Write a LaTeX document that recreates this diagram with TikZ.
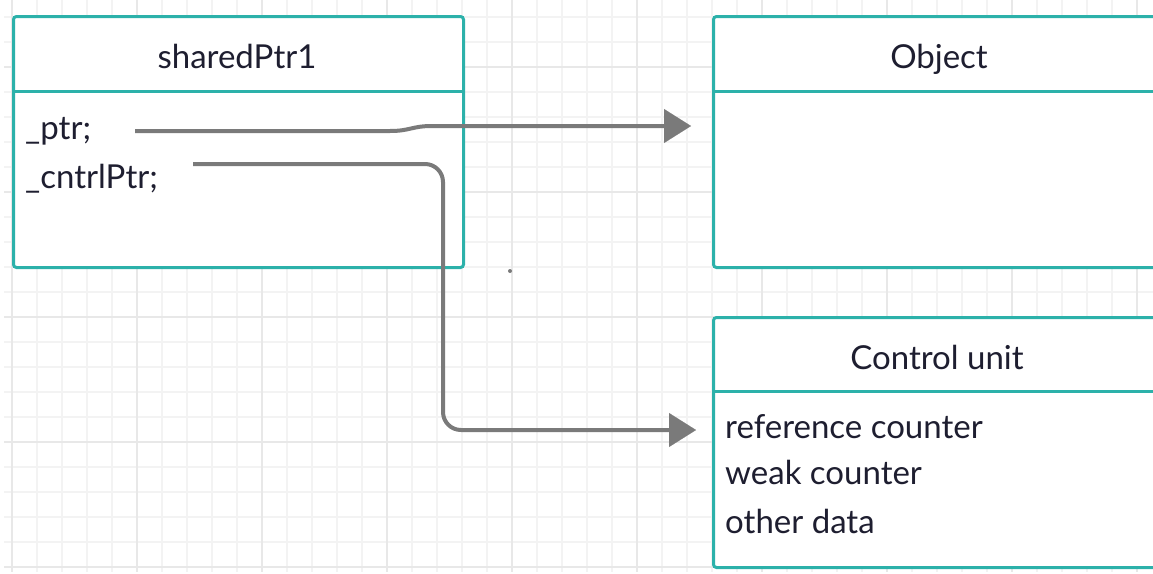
\documentclass[tikz,border=0pt]{standalone}
\usepackage{fontspec}
\setmainfont{Lato}
\usetikzlibrary{arrows.meta}
\definecolor{teal2}{RGB}{44,177,170}
\definecolor{gridminor}{RGB}{243,243,243}
\definecolor{gridmajor}{RGB}{232,232,232}
\definecolor{wire}{RGB}{122,122,122}
\definecolor{ink}{RGB}{30,30,48}
\tikzset{
  box/.style={draw=teal2, line width=3pt, rounded corners=3pt, fill=white,
    rectangle, inner sep=0pt, anchor=north west},
  divider/.style={draw=teal2, line width=3pt},
  title/.style={text=ink, font=\fontsize{33}{40}\selectfont, anchor=base, inner sep=0pt},
  field/.style={text=ink, font=\fontsize{33}{40}\selectfont, anchor=base west, inner sep=0pt},
  link/.style={draw=wire, line width=4pt,
    -{Triangle[length=27pt,width=34pt,line width=0.1pt]}},
}
\begin{document}
\begin{tikzpicture}[x=1pt,y=-1pt]
\useasboundingbox (0,0) rectangle (1153,573);
% background grid
\begin{scope}
  \clip (4,0) rectangle (1153,571);
  \foreach \k in {0,...,46} {
    \draw[gridminor, line width=1.5pt] ({-13+25*\k},0) -- ({-13+25*\k},573);
  }
  \foreach \k in {0,...,23} {
    \draw[gridminor, line width=1.5pt] (0,{-8+25*\k}) -- (1153,{-8+25*\k});
  }
  \foreach \k in {0,...,9} {
    \draw[gridmajor, line width=1.5pt] ({12+125*\k},0) -- ({12+125*\k},573);
  }
  \foreach \k in {0,...,4} {
    \draw[gridmajor, line width=1.5pt] (0,{67+125*\k}) -- (1153,{67+125*\k});
  }
\end{scope}
\fill[wire] (510,271) circle (2pt);

% class boxes
\node[box, minimum width=450pt, minimum height=251pt] (sp) at (12,15) {};
\draw[divider] (12,91) -- (462,91);
\node[title] (spT) at (237,68) {sharedPtr1};
\node[field] (ptr) at (25,139) {\_ptr;};
\node[field] (cptr) at (25,188) {\_cntrlPtr;};

\begin{scope}
  \clip (0,0) rectangle (1153,573);
  \node[box, minimum width=460pt, minimum height=251pt] (obj) at (712,15) {};
  \draw[divider] (712,91) -- (1160,91);
  \node[box, minimum width=460pt, minimum height=250pt] (cu) at (712,316) {};
  \draw[divider] (712,391) -- (1160,391);
\end{scope}
\node[title] (objT) at (939,68) {Object};
\node[title] (cuT) at (937,369) {Control unit};
\node[field] (ref) at (725,438) {reference counter};
\node[field] (weak) at (725,484) {weak counter};
\node[field] (other) at (725,533) {other data};

% pointers
\coordinate (objIn) at (691,126);
\coordinate (cuIn) at (696,430);
\draw[link] ([xshift=110pt,yshift=8pt]ptr.base west) -- (390,131)
  .. controls (410,131) and (412,126) .. (432,126) -- (objIn);
\draw[link, rounded corners=18pt] ([xshift=168pt,yshift=24pt]cptr.base west) -- (443,164) -- (443,430) -- (cuIn);
\end{tikzpicture}
\end{document}
